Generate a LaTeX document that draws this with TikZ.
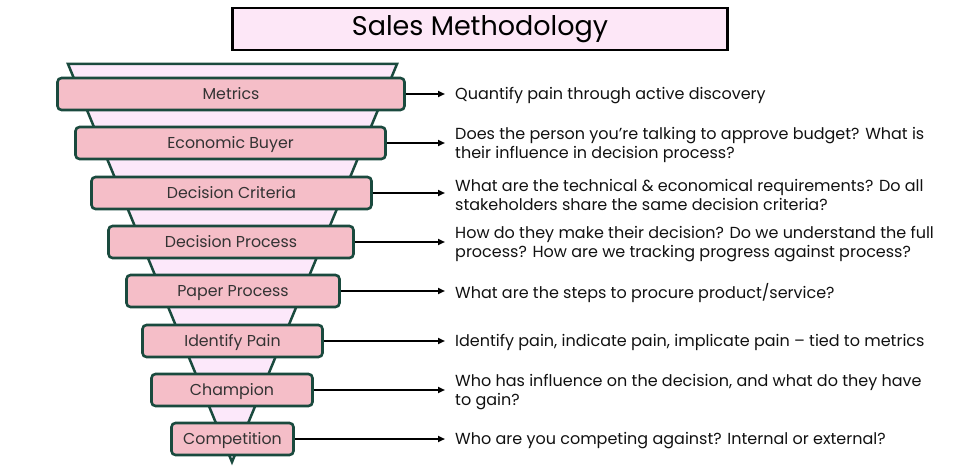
\documentclass[tikz,border=0pt]{standalone}
\usepackage{fontspec}
\setmainfont{Poppins}
\usetikzlibrary{arrows.meta}
\definecolor{dkgreen}{HTML}{1A4A3E}
\definecolor{barpink}{HTML}{F5BEC8}
\definecolor{funnelpink}{HTML}{FCE8FA}
\definecolor{titlepink}{HTML}{FDE7F7}
\definecolor{bartext}{HTML}{333333}
\definecolor{desctext}{HTML}{111111}
\begin{document}
\begin{tikzpicture}[x=1pt,y=-1pt,
  bar/.style={draw=dkgreen, fill=barpink, line width=2.6pt, rounded corners=4pt,
    minimum height=32pt, inner sep=0pt, text=bartext, text height=12pt, text depth=1pt,
    font=\fontsize{15.8}{18}\selectfont},
  desc/.style={anchor=west, align=left, inner sep=0pt, text=desctext, yshift=-1.8pt,
    font=\fontsize{16}{19}\selectfont},
  conn/.style={line width=2pt, -{Triangle[length=7pt,width=6pt]}}]
\useasboundingbox (0,0) rectangle (960,470);
% title
\node[draw=black, fill=titlepink, line width=2.5pt, minimum width=495pt, minimum height=42pt,
  inner sep=0pt, font=\fontsize{27}{30}\selectfont] (title) at (480,29) {Sales Methodology};
% funnel
\filldraw[fill=funnelpink, draw=dkgreen, line width=2.5pt, line join=miter]
  (68,64) -- (397,64) -- (232,462) -- cycle;
% bars
\node[bar, minimum width=347pt] (b1) at (231,94) {Metrics};
\node[bar, minimum width=310pt] (b2) at (230.5,143) {Economic Buyer};
\node[bar, minimum width=280pt] (b3) at (231.5,193) {Decision Criteria};
\node[bar, minimum width=245pt] (b4) at (231,242) {Decision Process};
\node[bar, minimum width=213pt] (b5) at (233,291) {Paper Process};
\node[bar, minimum width=180pt] (b6) at (232.5,341) {Identify Pain};
\node[bar, minimum width=161pt] (b7) at (232,390) {Champion};
\node[bar, minimum width=122pt] (b8) at (232.5,439) {Competition};
% descriptions
\node[desc] (d1) at (455,94) {Quantify pain through active discovery};
\node[desc] (d2) at (455,143) {Does the person you’re talking to approve budget? What is\\their influence in decision process?};
\node[desc] (d3) at (455,193) {What are the technical \& economical requirements? Do all\\stakeholders share the same decision criteria?};
\node[desc] (d4) at (455,242) {How do they make their decision? Do we understand the full\\process? How are we tracking progress against process?};
\node[desc] (d5) at (455,291) {What are the steps to procure product/service?};
\node[desc] (d6) at (455,341) {Identify pain, indicate pain, implicate pain – tied to metrics};
\node[desc] (d7) at (455,390) {Who has influence on the decision, and what do they have\\to gain?};
\node[desc] (d8) at (455,439) {Who are you competing against? Internal or external?};
% connectors
\foreach \i in {1,...,8}{
  \draw[conn] (b\i.east) -- ([xshift=-10pt]b\i.east -| d\i.west);
}
\end{tikzpicture}
\end{document}
